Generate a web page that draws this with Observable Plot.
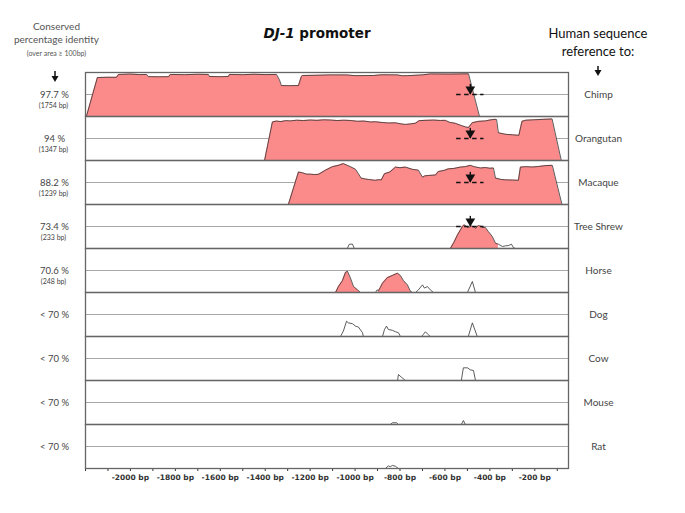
<!DOCTYPE html>
<html>
<head>
<meta charset="utf-8">
<script src="https://cdn.jsdelivr.net/npm/d3@7"></script>
<script src="https://cdn.jsdelivr.net/npm/@observablehq/plot@0.6"></script>
<style>
  html, body { margin: 0; padding: 0; background: #fff; }
  #wrap { position: relative; width: 685px; height: 513px; overflow: hidden; }
  .hd { position: absolute; text-align: center; white-space: nowrap; }
  #title { left: 200px; width: 234px; top: 25px; font-family: "DejaVu Sans"; font-weight: bold; font-size: 13.5px; color: #111; }
  #lhead { left: 0px; width: 113px; top: 20px; font-family: Lato; color: #555; font-size: 10px; line-height: 13px; }
  #lhead .small { font-size: 7px; line-height: 10px; }
  #rhead { left: 540px; width: 116px; top: 24px; font-family: Lato; color: #111; font-size: 13px; line-height: 18px; }
  .arrow { position: absolute; }
  g[aria-label="x-axis tick label"] { font-weight: bold; }
</style>
</head>
<body>
<div id="wrap">
  <div class="hd" id="title"><i>DJ-1</i> promoter</div>
  <div class="hd" id="lhead">Conserved<br>percentage identity<br><span class="small">(over area ≥ 100bp)</span></div>
  <div class="hd" id="rhead">Human sequence<br>reference to:</div>
  <svg class="arrow" style="left:51px;top:71px" width="8" height="12"><line x1="4" y1="0" x2="4" y2="6" stroke="#111" stroke-width="1.5"/><path d="M0.5,5 L7.5,5 L4,11 Z" fill="#111"/></svg>
  <svg class="arrow" style="left:594px;top:66px" width="8" height="11"><line x1="4" y1="0" x2="4" y2="5" stroke="#111" stroke-width="1.5"/><path d="M0.5,4 L7.5,4 L4,10 Z" fill="#111"/></svg>
</div>
<script>
// ---- data ----
const speciesNames = ["Chimp", "Orangutan", "Macaque", "Tree Shrew", "Horse", "Dog", "Cow", "Mouse", "Rat"];
const identityLabels = ["97.7 %", "94 %", "88.2 %", "73.4 %", "70.6 %", "< 70 %", "< 70 %", "< 70 %", "< 70 %"];
const lengthLabels = ["(1754 bp)", "(1347 bp)", "(1239 bp)", "(233 bp)", "(248 bp)", "", "", "", ""];
const tickValues = d3.range(-2200, -50, 100);
const tssBp = -487;
const tssSpecies = ["Chimp", "Orangutan", "Macaque", "Tree Shrew"];

// conservation curves: [position (bp), identity (%)]
const chimp = [[-2196,50],[-2147,94.3],[-2100,94.6],[-2062,94.5],[-2053,97.8],[-2000,98.2],[-1960,97.6],[-1928,97.8],[-1920,95.3],[-1870,95.1],[-1830,95.3],[-1822,97.8],[-1760,97.5],[-1700,98],[-1653,97.8],[-1648,95.5],[-1600,95.2],[-1564,95.5],[-1559,97.8],[-1500,97.5],[-1450,98],[-1400,97.6],[-1350,97.8],[-1337,92],[-1328,85.2],[-1290,85],[-1252,85.2],[-1239,95.5],[-1234,96.6],[-1180,96.8],[-1110,97.3],[-1035,97.2],[-1000,96.4],[-917,96.6],[-880,97.4],[-813,97.3],[-790,96.3],[-768,96.4],[-700,97.3],[-665,98.4],[-580,98.2],[-495,98.5],[-446,50]];
const orangutan = [[-1403,50],[-1368,93.8],[-1350,94.8],[-1330,94.2],[-1310,95.3],[-1288,95],[-1260,95.8],[-1230,95.4],[-1199,96],[-1170,95.6],[-1140,96.2],[-1110,96],[-1080,95.4],[-1050,95.8],[-1021,95.5],[-990,94.6],[-960,94.8],[-930,93.8],[-909,94],[-880,93.2],[-850,92.6],[-820,92.8],[-800,91.8],[-776,91],[-755,91.5],[-731,92.4],[-715,95.3],[-687,95.6],[-650,95.9],[-620,95.5],[-598,95.6],[-580,93.5],[-553,92.2],[-530,90],[-509,88.2],[-495,87.5],[-478,93],[-450,94.5],[-420,95],[-400,96],[-378,96.8],[-370,96.5],[-362,81.5],[-330,79.8],[-300,79.2],[-271,78.6],[-257,94.5],[-240,95.8],[-200,96.3],[-160,96.8],[-123,97.2],[-82,50]];
const macaque = [[-1297,50],[-1252,87],[-1234,86],[-1215,84.5],[-1199,84.5],[-1180,84],[-1163,84.3],[-1145,87],[-1132,89],[-1101,93],[-1074,94.5],[-1052,96.5],[-1035,94.5],[-1021,93],[-998,90],[-985,85],[-973,80],[-955,79],[-941,78.5],[-910,77.5],[-895,78.2],[-883,78],[-869,85],[-845,87],[-820,92.5],[-800,91.8],[-776,92.5],[-745,90],[-718,89],[-700,81],[-690,82.5],[-674,83],[-642,83.5],[-629,87.5],[-600,89],[-585,90.5],[-560,91],[-531,92.5],[-510,93],[-487,94.5],[-470,93],[-442,91.5],[-420,92],[-400,91.2],[-384,91.5],[-375,80],[-350,78.5],[-331,78],[-300,77.8],[-273,77.5],[-264,92.5],[-240,93],[-210,92.6],[-184,93.2],[-150,94.2],[-122,94.5],[-79,50]];
const treeShrew = [[-1035,50],[-1026,54.8],[-1012,55],[-1003,50],[-576,50],[-560,57],[-544,65.5],[-522,75],[-515,76.9],[-505,75.2],[-500,73.9],[-490,74.5],[-482,75.5],[-470,74.2],[-464,73],[-451,76.1],[-440,75.2],[-433,73.9],[-420,73.9],[-407,69.3],[-389,63.6],[-375,56],[-362,54.9],[-344,52.3],[-331,53],[-317,53.4],[-304,54.9],[-295,51],[-286,50]];
const horse = [[-1087,50],[-1074,56.8],[-1056,63.6],[-1043,72.7],[-1034,74.2],[-1021,66.7],[-1007,56.8],[-989,53],[-976,50],[-909,50],[-902,53],[-896,52],[-887,56],[-878,60.6],[-856,67],[-834,69.3],[-820,71],[-811,71.9],[-798,69.3],[-785,63.6],[-767,58.7],[-754,51.5],[-745,50],[-731,50],[-718,53],[-700,58.7],[-691,55],[-678,56.8],[-665,53],[-651,50],[-500,50],[-478,62.5],[-464,50]];
const dog = [[-1065,50],[-1052,56.2],[-1038,67.4],[-1030,65.5],[-1012,64.6],[-998,61.8],[-985,60.7],[-967,54.3],[-963,50],[-878,50],[-869,58],[-860,61.8],[-852,58],[-834,57],[-820,55.4],[-807,54.3],[-798,50],[-705,50],[-696,52.4],[-687,55.4],[-678,53],[-665,50],[-496,50],[-478,65.5],[-456,50]];
const cow = [[-811,50],[-807,56.8],[-794,53.8],[-780,51],[-776,50],[-527,50],[-518,64.4],[-500,64.4],[-487,62.1],[-473,61.4],[-464,50]];
const mouse = [[-843,50],[-834,52],[-816,52],[-807,50],[-527,50],[-518,54.5],[-509,50]];
const rat = [[-865,50],[-852,53],[-843,52],[-834,53.5],[-820,52.5],[-807,50]];
const curves = [chimp, orangutan, macaque, treeShrew, horse, dog, cow, mouse, rat];

// conserved (shaded) regions per species: [start, end] bp
const shadedChimp = [[-2200, -440]];
const shadedOrangutan = [[-1410, -70]];
const shadedMacaque = [[-1300, -70]];
const shadedTreeShrew = [[-576, -362]];
const shadedHorse = [[-1087, -976], [-896, -745]];
const shadedRanges = [shadedChimp, shadedOrangutan, shadedMacaque, shadedTreeShrew, shadedHorse, [], [], [], []];

// ---- tables built from the arrays ----
const curveRows = speciesNames.flatMap((s, i) => curves[i].map(([bp, pct]) => ({species: s, bp, pct})));
const shadeRows = speciesNames.flatMap((s, i) =>
  shadedRanges[i].flatMap(([a, b], k) =>
    curves[i].filter(([bp]) => bp >= a && bp <= b).map(([bp, pct]) => ({species: s, seg: s + k, bp, pct}))));
const labelRows = speciesNames.map((s, i) => ({species: s, identity: identityLabels[i], length: lengthLabels[i]}));
const tssRows = tssSpecies.map(s => ({species: s, bp: tssBp, from: tssBp - 61, to: tssBp + 61}));

const fill = "#fb8a8a";

const chart = Plot.plot({
  width: 685,
  height: 500,
  marginTop: 71,
  marginBottom: 32,
  marginLeft: 85,
  marginRight: 117,
  style: {fontFamily: "DejaVu Sans", fontSize: "7.5px", color: "#333", background: "white", overflow: "visible"},
  x: {
    domain: [-2200, -50],
    ticks: tickValues,
    tickSize: 3,
    tickPadding: 3,
    tickFormat: d => (d >= -2000 && d % 200 === 0) ? `${d} bp` : "",
    label: null
  },
  y: {domain: [50, 100], axis: null},
  fy: {domain: speciesNames, padding: 0, axis: null},
  marks: [
    Plot.ruleY([75], {stroke: "#a8a8a8", strokeWidth: 1}),
    Plot.areaY(shadeRows, {x: "bp", y1: 50, y2: "pct", z: "seg", fy: "species", fill: fill}),
    Plot.lineY(curveRows, {x: "bp", y: "pct", fy: "species", stroke: "#333", strokeWidth: 0.8}),
    Plot.frame({stroke: "#666", strokeWidth: 1.3}),
    Plot.ruleY(tssRows, {y: 75, x1: "from", x2: "to", fy: "species", stroke: "#111", strokeWidth: 1.4, strokeDasharray: "4.5,3.5"}),
    Plot.ruleX(tssRows, {x: "bp", y1: 86.5, y2: 75, fy: "species", stroke: "#111", strokeWidth: 1.4}),
    Plot.dot(tssRows, {x: "bp", y: 81, fy: "species", symbol: "triangle", rotate: 180, r: 3.6, fill: "#111", stroke: "none"}),
    Plot.text(labelRows, {fy: "species", y: 75, frameAnchor: "left", dx: -31, dy: 0, text: "identity", textAnchor: "middle", fontFamily: "Lato", fontSize: 9.5, fill: "#444"}),
    Plot.text(labelRows, {fy: "species", y: 75, frameAnchor: "left", dx: -32, dy: 11, text: "length", textAnchor: "middle", fontFamily: "Lato", fontSize: 7, fill: "#444"}),
    Plot.text(labelRows, {fy: "species", y: 75, frameAnchor: "right", dx: 30, text: "species", textAnchor: "middle", fontFamily: "Lato", fontSize: 10, fill: "#444"})
  ]
});
chart.style.position = "absolute";
chart.style.left = "0px";
chart.style.top = "0px";
document.getElementById("wrap").prepend(chart);
</script>
</body>
</html>
